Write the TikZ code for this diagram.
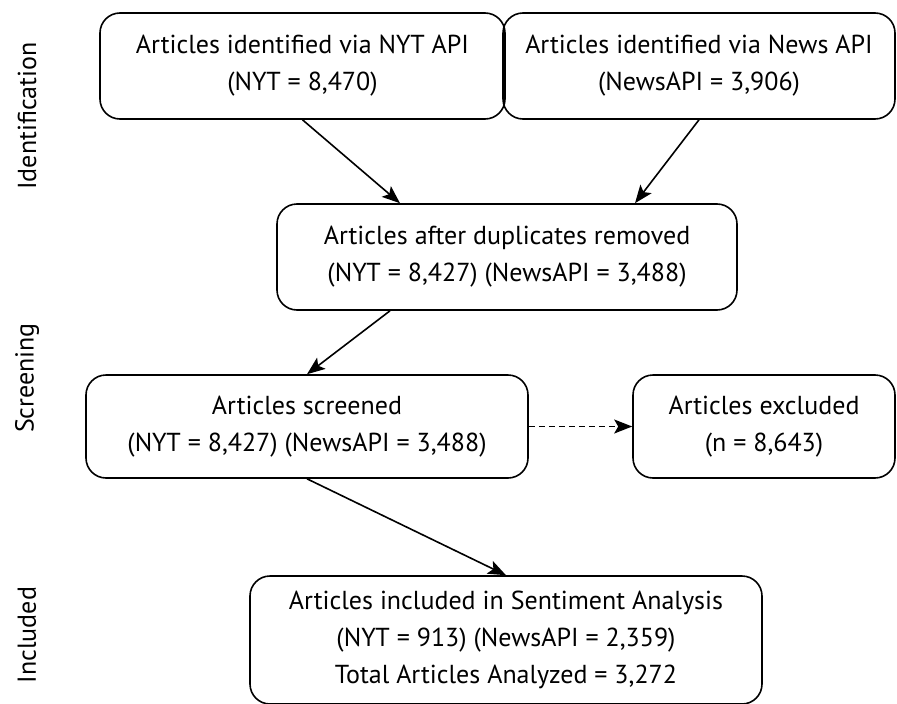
\documentclass[tikz,border=0pt]{standalone}
\usepackage{fontspec}
\setmainfont{PT Sans}
\usetikzlibrary{calc,arrows.meta}

\begin{document}
\begin{tikzpicture}[x=1pt, y=-1pt, line width=1.6pt,
    box/.style={draw, rounded corners=20pt, align=center, inner sep=0pt,
      font=\fontsize{26}{37}\selectfont},
    arr/.style={-{Stealth[length=18pt, width=14pt, inset=4pt]}},
    stage/.style={rotate=90, font=\fontsize{26}{32}\selectfont}]
  \useasboundingbox (0,0) rectangle (897,704);
  % stages on the left
  \node[stage] (ident) at (27,116) {Identification};
  \node[stage] (screen) at (27,378) {Screening};
  \node[stage] (incl) at (27,635) {Included};
  % boxes
  \node[box, minimum width=405pt, minimum height=106pt] (nyt) at (302.5,66)
    {Articles identified via NYT API\\(NYT = 8,470)};
  \node[box, minimum width=392pt, minimum height=106pt] (news) at (699,66)
    {Articles identified via News API\\(NewsAPI = 3,906)};
  \node[box, minimum width=460pt, minimum height=106pt] (dedup) at (507,257)
    {Articles after duplicates removed\\(NYT = 8,427) (NewsAPI = 3,488)};
  \node[box, minimum width=442pt, minimum height=103pt] (screened) at (307,426.5)
    {Articles screened\\(NYT = 8,427) (NewsAPI = 3,488)};
  \node[box, minimum width=262pt, minimum height=103pt] (excl) at (764,426.5)
    {Articles excluded\\(n = 8,643)};
  \node[box, minimum width=512pt, minimum height=128pt] (sent) at (506,640)
    {Articles included in Sentiment Analysis\\(NYT = 913) (NewsAPI = 2,359)\\Total Articles Analyzed = 3,272};
  % arrows
  \draw[arr] (nyt.south) -- ([xshift=-107pt]dedup.north);
  \draw[arr] (news.south) -- ([xshift=128pt]dedup.north);
  \draw[arr] ([xshift=-117pt]dedup.south) -- (screened.north);
  \draw[arr, dash pattern=on 6pt off 4pt] (screened.east) -- (excl.west);
  \draw[arr] (screened.south) -- (sent.north);
\end{tikzpicture}
\end{document}
